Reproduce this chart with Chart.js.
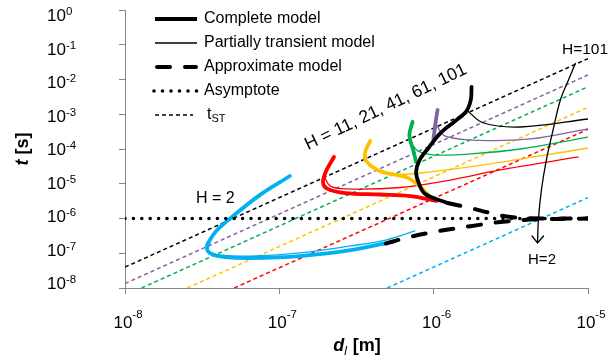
<!DOCTYPE html>
<html>
<head>
<meta charset="utf-8">
<script src="https://cdn.jsdelivr.net/npm/chart.js@4.4.1/dist/chart.umd.min.js"></script>
<style>
  html, body { margin: 0; padding: 0; background: #fff; }
</style>
</head>
<body>
<canvas id="chart" width="609" height="358"></canvas>
<script>
// axis decades and their labels
const xTicks = [1e-8, 1e-7, 1e-6, 1e-5];
const xTickExp = ['-8', '-7', '-6', '-5'];
const yTicks = [1e0, 1e-1, 1e-2, 1e-3, 1e-4, 1e-5, 1e-6, 1e-7, 1e-8];
const yTickExp = ['0', '-1', '-2', '-3', '-4', '-5', '-6', '-7', '-8'];

// H values and their colours
const hValues = [2, 11, 21, 41, 61, 101];
const hColors = ['#00b0f0', '#ff0000', '#ffc000', '#00b050', '#8064a2', '#000000'];

// t_ST straight lines (end points)
const tstX = [
  [5.0e-7, 1e-5], [5.1e-8, 1e-5], [2.53e-8, 1e-5],
  [1.28e-8, 1e-5], [1e-8, 1e-5], [1e-8, 1e-5]
];
const tstY = [
  [1e-8, 4.0e-6], [1e-8, 3.7e-4], [1e-8, 1.58e-3],
  [1e-8, 6.2e-3], [1.35e-8, 1.35e-2], [4e-8, 4e-2]
];

// asymptote
const asymX = [1e-8, 1e-5];
const asymY = [1e-6, 1e-6];

// complete model (thick), H = 2, 11, 21, 41, 61
const completeX = [
  [1.17e-7, 7.5e-8, 4.8e-8, 3.8e-8, 3.4e-8, 3.65e-8, 4.45e-8, 6.5e-8, 1.36e-7, 2.9e-7, 4.9e-7],
  [2.26e-7, 2.0e-7, 1.92e-7, 2.07e-7, 2.67e-7, 4.5e-7, 7.1e-7, 1.04e-6],
  [3.88e-7, 3.6e-7, 3.66e-7, 4.5e-7, 6.6e-7, 7.95e-7, 9.2e-7],
  [7.3e-7, 6.96e-7, 7.4e-7, 7.7e-7],
  [1.06e-6, 1.03e-6, 9.95e-7]
];
const completeY = [
  [1.67e-5, 4.8e-6, 1.0e-6, 3.8e-7, 1.4e-7, 9.5e-8, 7.8e-8, 7.3e-8, 8.3e-8, 1.23e-7, 1.96e-7],
  [5.9e-5, 2.2e-5, 1.05e-5, 7.0e-6, 5.4e-6, 4.9e-6, 4.4e-6, 3.2e-6],
  [1.7e-4, 8.2e-5, 4.5e-5, 2.3e-5, 1.56e-5, 9.2e-6, 4.8e-6],
  [6.0e-4, 2.5e-4, 8.7e-5, 4.2e-5],
  [1.33e-3, 6.0e-4, 1.8e-4]
];

// complete model, H = 101 (black, runs through the other branches)
const complete101X = [1.76e-6, 1.74e-6, 1.63e-6, 1.38e-6, 1.11e-6, 9.25e-7, 8.1e-7, 7.7e-7, 7.96e-7, 8.8e-7, 1.23e-6];
const complete101Y = [6.1e-3, 2.6e-3, 1.24e-3, 6.4e-4, 2.9e-4, 1.07e-4, 4.8e-5, 2.2e-5, 1.12e-5, 5.1e-6, 2.8e-6];

// partially transient model (thin), H = 2 ... 101
const partialX = [
  [3.55e-8, 3.34e-8, 3.82e-8, 6.46e-8, 1.36e-7, 2.88e-7, 4.9e-7, 7.6e-7],
  [1.95e-7, 2.13e-7, 2.67e-7, 6.1e-7, 1.28e-6, 2.7e-6, 8.7e-6],
  [4.0e-7, 5.25e-7, 8.2e-7, 1.66e-6, 4.44e-6, 1e-5],
  [7.06e-7, 7.95e-7, 1.03e-6, 1.73e-6, 3.65e-6, 1e-5],
  [1.04e-6, 1.19e-6, 2.0e-6, 4.25e-6, 1e-5],
  [1.66e-6, 2.1e-6, 3.65e-6, 1e-5]
];
const partialY = [
  [2.75e-7, 1.62e-7, 9.5e-8, 8.3e-8, 1.02e-7, 1.62e-7, 2.4e-7, 4.4e-7],
  [1.66e-5, 8.7e-6, 7.1e-6, 7.8e-6, 1.28e-5, 2.5e-5, 5.9e-5],
  [3.0e-5, 1.9e-5, 2.04e-5, 3.0e-5, 5.9e-5, 1.07e-4],
  [1.6e-4, 8.7e-5, 6.7e-5, 7.2e-5, 1.0e-4, 2.2e-4],
  [4.9e-4, 2.35e-4, 1.76e-4, 1.95e-4, 3.8e-4],
  [1.24e-3, 5.6e-4, 4.3e-4, 7.3e-4]
];

// approximate model, two branches
const approxUpperX = [1.23e-6, 1.73e-6, 2.33e-6, 3.15e-6, 4.93e-6, 1e-5];
const approxUpperY = [2.79e-6, 2.0e-6, 1.44e-6, 1.1e-6, 1.0e-6, 1.0e-6];
const approxLowerX = [4.9e-7, 7.0e-7, 1.1e-6, 1.73e-6, 2.7e-6, 4.25e-6, 1e-5];
const approxLowerY = [1.9e-7, 2.95e-7, 4.4e-7, 6.0e-7, 7.9e-7, 9.3e-7, 1.0e-6];

// arrow from H=101 down to H=2
const arrowX = [8.3e-6, 7.47e-6, 6.62e-6, 5.88e-6, 5.37e-6, 4.99e-6, 4.77e-6, 4.71e-6];
const arrowY = [2.98e-2, 9.7e-3, 2.57e-3, 2.9e-4, 4.8e-5, 6.6e-6, 9.1e-7, 1.97e-7];

const legendLabels = ['Complete model', 'Partially transient model', 'Approximate model', 'Asymptote', 't'];

const FONT = "'Liberation Sans', Arial, sans-serif";
const AXIS_GREY = '#868686';

function pts(xs, ys) {
  return xs.map((x, i) => ({ x: x, y: ys[i] }));
}

function line(xs, ys, color, width, extra) {
  return Object.assign({
    data: pts(xs, ys),
    showLine: true,
    borderColor: color,
    borderWidth: width,
    pointRadius: 0,
    tension: 0.35,
    fill: false
  }, extra || {});
}

// bottom to top
const datasets = [];
hValues.forEach((h, i) => {
  datasets.push(line(tstX[i], tstY[i], hColors[i], 1.5, { borderDash: [4, 3], tension: 0 }));
});
hValues.forEach((h, i) => {
  datasets.push(line(partialX[i], partialY[i], hColors[i], 1.3));
});
completeX.forEach((xs, i) => {
  datasets.push(line(xs, completeY[i], hColors[i], 3.8, { borderCapStyle: 'round' }));
});
datasets.push(line(complete101X, complete101Y, '#000', 3.8, { borderCapStyle: 'round' }));
datasets.push(line(approxUpperX, approxUpperY, '#000', 4, { borderDash: [13, 15], borderCapStyle: 'round' }));
datasets.push(line(approxLowerX, approxLowerY, '#000', 4, { borderDash: [13, 15], borderCapStyle: 'round' }));
datasets.push(line(asymX, asymY, '#000', 3.6, { borderDash: [0, 8.4], borderCapStyle: 'round', tension: 0 }));
datasets.push(line(arrowX, arrowY, '#000', 1.3));
datasets.forEach((d, i) => { d.order = -i; });

function pow10(ctx, exp, x, baseY, supY, center) {
  ctx.font = '17px ' + FONT;
  const w1 = ctx.measureText('10').width;
  ctx.font = '11.5px ' + FONT;
  const w2 = ctx.measureText(exp).width;
  const left = center ? x - (w1 + w2) / 2 : x;
  ctx.textAlign = 'left';
  ctx.textBaseline = 'alphabetic';
  ctx.font = '17px ' + FONT;
  ctx.fillText('10', left, baseY);
  ctx.font = '11.5px ' + FONT;
  ctx.fillText(exp, left + w1, supY);
}

const decorations = {
  id: 'decorations',
  afterDraw(chart) {
    const ctx = chart.ctx;
    const xs = chart.scales.x, ys = chart.scales.y;
    ctx.save();
    ctx.fillStyle = '#000';

    // tick labels
    yTicks.forEach((v, i) => {
      const c = ys.getPixelForValue(v) + 5 - 1.25 * i;
      pow10(ctx, yTickExp[i], 47, c + 6, c, false);
    });
    xTicks.forEach((v, i) => {
      const px = xs.getPixelForValue(v);
      pow10(ctx, xTickExp[i], px + 3, 328, 318, true);
    });

    // x title: d_l [m]
    ctx.textBaseline = 'alphabetic';
    ctx.textAlign = 'left';
    ctx.font = 'italic bold 18px ' + FONT;
    const wd = ctx.measureText('d').width;
    ctx.font = 'italic 12px ' + FONT;
    const wl = ctx.measureText('l').width;
    ctx.font = 'bold 18px ' + FONT;
    const wm = ctx.measureText(' [m]').width;
    let x0 = (chart.chartArea.left + chart.chartArea.right) / 2 - (wd + wl + wm) / 2;
    ctx.font = 'italic bold 18px ' + FONT;
    ctx.fillText('d', x0, 351);
    ctx.font = 'italic 12px ' + FONT;
    ctx.fillText('l', x0 + wd, 355);
    ctx.font = 'bold 18px ' + FONT;
    ctx.fillText(' [m]', x0 + wd + wl + 1, 351);

    // y title: t [s]
    ctx.save();
    ctx.translate(28, (chart.chartArea.top + chart.chartArea.bottom) / 2);
    ctx.rotate(-Math.PI / 2);
    ctx.font = 'italic bold 18px ' + FONT;
    const wt = ctx.measureText('t').width;
    ctx.font = 'bold 18px ' + FONT;
    const ws = ctx.measureText(' [s]').width;
    const t0 = -(wt + ws) / 2;
    ctx.font = 'italic bold 18px ' + FONT;
    ctx.fillText('t', t0, 0);
    ctx.font = 'bold 18px ' + FONT;
    ctx.fillText(' [s]', t0 + wt, 0);
    ctx.restore();

    // legend
    const ly = [19, 43, 67, 91, 115];
    ctx.strokeStyle = '#000';
    const seg = (y, w, dash, cap, x1, x2) => {
      ctx.beginPath();
      ctx.lineWidth = w;
      ctx.setLineDash(dash);
      ctx.lineCap = cap;
      ctx.moveTo(x1, y);
      ctx.lineTo(x2, y);
      ctx.stroke();
    };
    seg(ly[0], 4, [], 'butt', 155, 197);
    seg(ly[1], 1.3, [], 'butt', 155, 197);
    seg(ly[2], 4, [13, 15], 'round', 157, 196);
    seg(ly[3], 3.6, [0, 8.5], 'round', 154, 198);
    seg(ly[4], 1.5, [4, 3], 'butt', 155, 193);
    ctx.setLineDash([]);
    ctx.font = '16px ' + FONT;
    ctx.textBaseline = 'middle';
    for (let i = 0; i < 4; i++) ctx.fillText(legendLabels[i], 204, ly[i]);
    ctx.fillText(legendLabels[4], 207, ly[4]);
    const wtt = ctx.measureText(legendLabels[4]).width;
    ctx.font = '11px ' + FONT;
    ctx.fillText('ST', 207 + wtt, ly[4] + 4);

    // annotations
    ctx.textBaseline = 'middle';
    ctx.font = '16px ' + FONT;
    ctx.fillText('H = ' + hValues[0], 196, 199);
    ctx.font = '15.5px ' + FONT;
    ctx.fillText('H=' + hValues[5], 562, 50);
    ctx.textAlign = 'center';
    ctx.font = '15px ' + FONT;
    ctx.fillText('H=' + hValues[0], 542, 260);
    ctx.save();
    ctx.translate(308, 150);
    ctx.rotate(-25.7 * Math.PI / 180);
    ctx.textAlign = 'left';
    ctx.textBaseline = 'alphabetic';
    ctx.font = '17.5px ' + FONT;
    ctx.fillText('H = ' + hValues.slice(1).join(', '), 0, 0);
    ctx.restore();

    // arrow head at the end of the arrow line
    const n = arrowX.length - 1;
    const ax = xs.getPixelForValue(arrowX[n]);
    const ay = ys.getPixelForValue(arrowY[n]);
    ctx.beginPath();
    ctx.lineWidth = 1.3;
    ctx.lineCap = 'round';
    ctx.moveTo(ax - 5.5, ay - 7);
    ctx.lineTo(ax, ay);
    ctx.lineTo(ax + 6, ay - 7);
    ctx.stroke();

    ctx.restore();
  }
};

const axisCommon = {
  type: 'logarithmic',
  border: { display: true, color: AXIS_GREY, width: 1 },
  grid: { display: true, drawOnChartArea: false, drawTicks: true, tickLength: 6, color: AXIS_GREY, lineWidth: 1 },
  ticks: { display: false }
};

new Chart(document.getElementById('chart'), {
  type: 'scatter',
  data: { datasets: datasets },
  options: {
    responsive: false,
    animation: false,
    events: [],
    layout: { padding: { left: 0, right: 21, top: 10, bottom: 0 } },
    plugins: { legend: { display: false }, tooltip: { enabled: false } },
    scales: {
      x: Object.assign({}, axisCommon, {
        position: 'bottom',
        min: 1e-8, max: 1e-5,
        afterBuildTicks: s => { s.ticks = xTicks.map(v => ({ value: v })); },
        afterFit: s => { s.height = 70; }
      }),
      y: Object.assign({}, axisCommon, {
        position: 'left',
        min: 1e-8, max: 1e0,
        afterBuildTicks: s => { s.ticks = yTicks.map(v => ({ value: v })); },
        afterFit: s => { s.width = 125; }
      })
    }
  },
  plugins: [decorations]
});
</script>
</body>
</html>
